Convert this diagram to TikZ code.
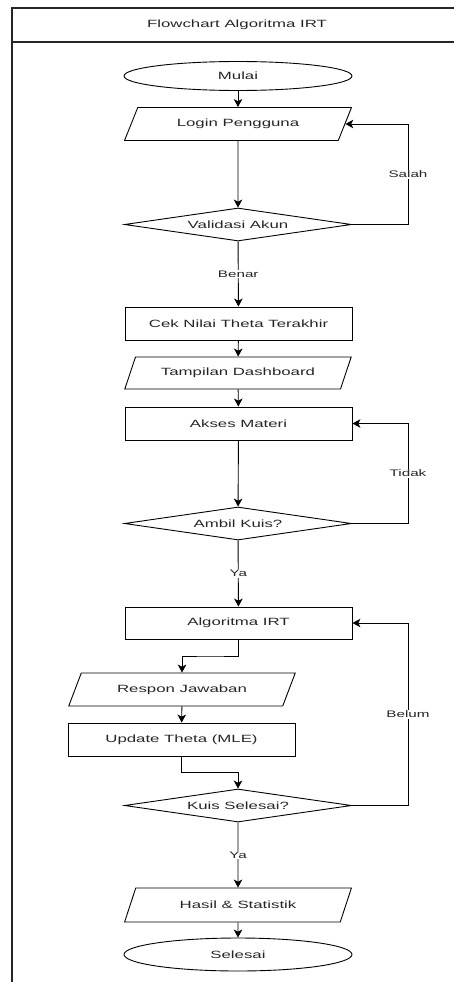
\documentclass[tikz,border=0pt]{standalone}
\usepackage{fontspec}
\setmainfont{Liberation Sans}[FakeStretch=1.6]
\usetikzlibrary{shapes.geometric,arrows.meta,calc}
\definecolor{txt}{HTML}{262626}
\begin{document}
\begin{tikzpicture}[x=1pt,y=-1pt,
  every node/.style={text=txt},
  base/.style={draw=black, line width=0.9pt, inner sep=0pt, font=\fontsize{10.5}{12}\selectfont},
  term/.style={base, ellipse, minimum width=228pt, minimum height=29pt},
  proc/.style={base, rectangle, minimum width=227pt, minimum height=33pt},
  io/.style={base, trapezium, trapezium left angle=50.5, trapezium right angle=129.5, trapezium stretches=true, minimum width=227pt, minimum height=33pt},
  dec/.style={base, diamond, aspect=6.9, minimum width=227pt, minimum height=33pt},
  arr/.style={draw=black, line width=0.9pt, -{Stealth[length=8pt,width=8.5pt,inset=2.2pt]}},
  lbl/.style={fill=white, inner sep=1pt, font=\fontsize{9.5}{11}\selectfont},
  frame/.style={draw=black!85, line width=1.4pt}
]
\useasboundingbox (0,0) rectangle (454,982);
% frame
\coordinate (ftl) at (12,8);
\coordinate (ftr) at (454,8);
\coordinate (fhl) at (12,42);
\coordinate (fhr) at (454,42);
\coordinate (fbl) at (12,982);
\draw[frame] (ftr) -- (ftl) -- (fbl);
\draw[frame] (fhl) -- (fhr);
\node[font=\fontsize{10.5}{12}\selectfont] (title) at (237,25) {Flowchart Algoritma IRT};

% nodes
\node[term] (start) at (238,76) {Mulai};
\node[io] (login) at (238,124) {Login Pengguna};
\node[dec] (valid) at (238,224.5) {Validasi Akun};
\node[proc] (cek) at (238.5,323.5) {Cek Nilai Theta Terakhir};
\node[io, minimum height=32pt] (dash) at (238,373) {Tampilan Dashboard};
\node[proc] (akses) at (238.5,423.5) {Akses Materi};
\node[dec] (ambil) at (238,523.5) {Ambil Kuis?};
\node[proc, minimum height=32pt] (algo) at (238.5,623) {Algoritma IRT};
\node[io] (respon) at (182,689.5) {Respon Jawaban};
\node[proc] (update) at (181.5,739.5) {Update Theta (MLE)};
\node[dec] (kuis) at (238,805.5) {Kuis Selesai?};
\node[io, minimum height=34pt] (hasil) at (238,905) {Hasil \& Statistik};
\node[term, minimum height=33pt] (selesai) at (238,954.5) {Selesai};

\coordinate (lx) at (408,0);
\coordinate (m1) at ($(algo.south)!.5!(respon.north)$);
\coordinate (m2) at ($(update.south)!.5!(kuis.north)$);

% connectors
\draw[arr] (start) -- (login);
\draw[arr] (login) -- (valid);
\draw[arr] (valid.east) -- (valid.east -| lx) |- node[lbl, pos=.25] {Salah} (login.east);
\draw[arr] (valid) -- node[lbl] {Benar} (cek);
\draw[arr] (cek) -- (dash);
\draw[arr] (dash) -- (akses);
\draw[arr] (akses) -- (ambil);
\draw[arr] (ambil.east) -- (ambil.east -| lx) |- node[lbl, pos=.25] {Tidak} (akses.east);
\draw[arr] (ambil) -- node[lbl] {Ya} (algo);
\draw[arr] (algo.south) |- (m1) -| (respon.north);
\draw[arr] (respon) -- (update);
\draw[arr] (update.south) |- (m2) -| (kuis.north);
\draw[arr] (kuis.east) -- (kuis.east -| lx) |- node[lbl, pos=.25] {Belum} (algo.east);
\draw[arr] (kuis) -- node[lbl] {Ya} (hasil);
\draw[arr] (hasil) -- (selesai);
\end{tikzpicture}
\end{document}
